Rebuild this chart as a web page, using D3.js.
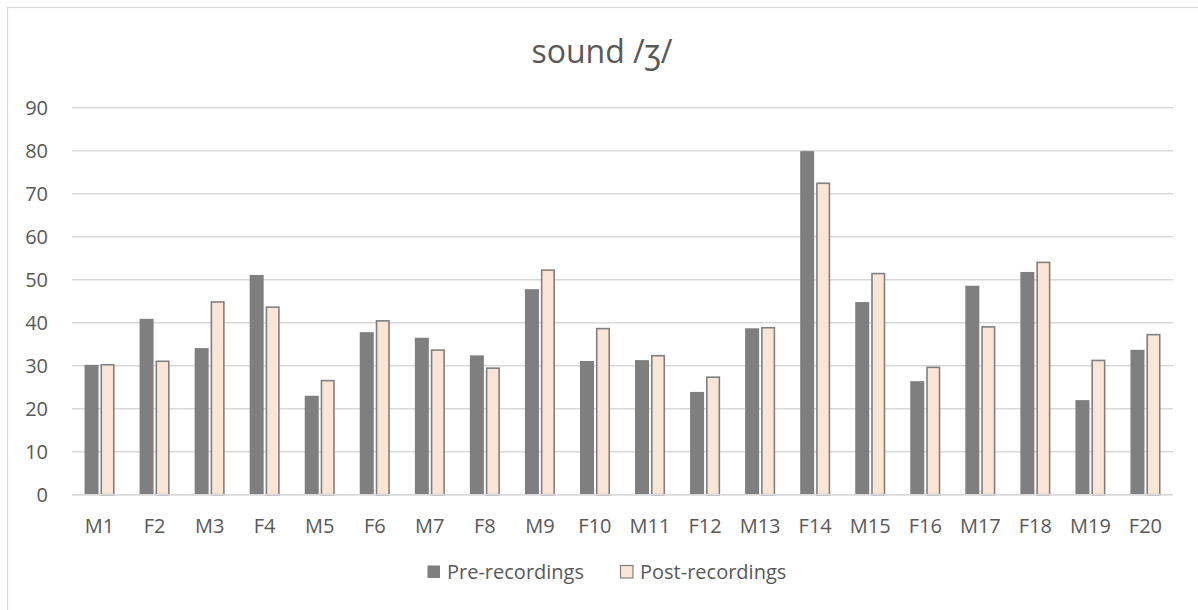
<!DOCTYPE html>
<html>
<head>
<meta charset="utf-8">
<script src="https://cdn.jsdelivr.net/npm/d3@7/dist/d3.min.js"></script>
<style>
  html, body { margin: 0; padding: 0; background: #fff; }
  svg { display: block; }
  text { font-family: "Open Sans", "Noto Sans", sans-serif; fill: #595959; }
</style>
</head>
<body>
<svg id="chart" width="1198" height="610"></svg>
<script>
// Speakers (M = male, F = female)
const categories = ["M1","F2","M3","F4","M5","F6","M7","F8","M9","F10",
                    "M11","F12","M13","F14","M15","F16","M17","F18","M19","F20"];
const preRecordings  = [30.2, 40.9, 34.1, 51.1, 23.0, 37.8, 36.5, 32.4, 47.8, 31.1,
                        31.3, 23.9, 38.7, 79.9, 44.8, 26.4, 48.6, 51.8, 22.0, 33.7];
const postRecordings = [30.4, 31.2, 45.0, 43.8, 26.7, 40.6, 33.8, 29.6, 52.4, 38.8,
                        32.5, 27.5, 39.0, 72.6, 51.6, 29.8, 39.2, 54.2, 31.4, 37.4];
const yTicks = [0, 10, 20, 30, 40, 50, 60, 70, 80, 90];
const seriesNames = ["Pre-recordings", "Post-recordings"];
const chartTitle = "sound /ʒ/";

const svg = d3.select("#chart");
const W = 1198, H = 610;

// chart frame
svg.append("rect")
  .attr("x", 7.5).attr("y", 7.5)
  .attr("width", W + 10).attr("height", H + 10)
  .attr("fill", "#fff").attr("stroke", "#d9d9d9").attr("stroke-width", 1.2);

const plot = { left: 72, right: 1173, top: 107.7, bottom: 494.7 };

const x = d3.scaleBand().domain(categories).range([plot.left, plot.right]).padding(0);
const y = d3.scaleLinear().domain([0, 90]).range([plot.bottom, plot.top]);

// gridlines
svg.append("g")
  .selectAll("line")
  .data(yTicks)
  .join("line")
  .attr("x1", plot.left).attr("x2", plot.right)
  .attr("y1", d => y(d)).attr("y2", d => y(d))
  .attr("stroke", "#d9d9d9").attr("stroke-width", 1.5);

// y tick labels
svg.append("g")
  .selectAll("text")
  .data(yTicks)
  .join("text")
  .attr("x", 48).attr("y", d => y(d))
  .attr("dy", "0.35em")
  .attr("text-anchor", "end")
  .attr("font-size", 20)
  .text(d => d);

const barW = 14, gap = 2;
const center = c => x(c) + x.bandwidth() / 2;

// pre-recording bars
svg.append("g")
  .selectAll("rect")
  .data(categories)
  .join("rect")
  .attr("x", c => center(c) - barW - gap / 2)
  .attr("y", (c, i) => y(preRecordings[i]))
  .attr("width", barW)
  .attr("height", (c, i) => y(0) - y(preRecordings[i]))
  .attr("fill", "#7f7f7f");

// post-recording bars
svg.append("g")
  .selectAll("rect")
  .data(categories)
  .join("rect")
  .attr("x", c => center(c) + gap / 2 + 0.75)
  .attr("y", (c, i) => y(postRecordings[i]) + 0.75)
  .attr("width", barW - 1.5)
  .attr("height", (c, i) => y(0) - y(postRecordings[i]) - 0.75)
  .attr("fill", "#fbe5d6")
  .attr("stroke", "#808080")
  .attr("stroke-width", 1.6);

// baseline
svg.append("line")
  .attr("x1", plot.left).attr("x2", plot.right)
  .attr("y1", y(0)).attr("y2", y(0))
  .attr("stroke", "#d9d9d9").attr("stroke-width", 1.5);

// x tick labels
svg.append("g")
  .selectAll("text")
  .data(categories)
  .join("text")
  .attr("x", c => center(c))
  .attr("y", 533)
  .attr("text-anchor", "middle")
  .attr("font-size", 20)
  .text(c => c);

// title
svg.append("text")
  .attr("x", 602).attr("y", 63)
  .attr("text-anchor", "middle")
  .attr("font-size", 32)
  .text(chartTitle);

// legend
const legend = svg.append("g");
const legendItems = [
  { name: seriesNames[0], x: 427, fill: "#7f7f7f", stroke: "none" },
  { name: seriesNames[1], x: 620, fill: "#fbe5d6", stroke: "#808080" }
];
legend.selectAll("rect")
  .data(legendItems)
  .join("rect")
  .attr("x", d => d.x + 0.5).attr("y", 565.5)
  .attr("width", 12.5).attr("height", 12.5)
  .attr("fill", d => d.fill)
  .attr("stroke", d => d.stroke)
  .attr("stroke-width", 1.2);
legend.selectAll("text")
  .data(legendItems)
  .join("text")
  .attr("x", d => d.x + 20).attr("y", 579)
  .attr("font-size", 20)
  .text(d => d.name);
</script>
</body>
</html>
